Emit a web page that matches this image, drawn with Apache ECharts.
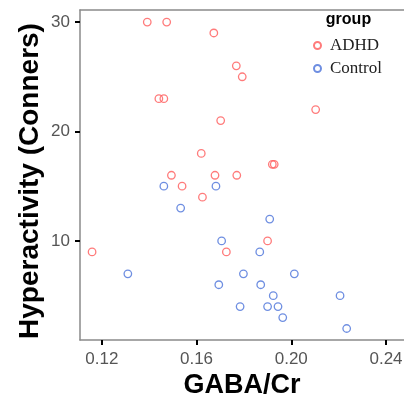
<!DOCTYPE html>
<html>
<head>
<meta charset="utf-8">
<script src="https://cdn.jsdelivr.net/npm/echarts@6/dist/echarts.min.js"></script>
<style>
html,body{margin:0;padding:0;background:#fff;}
#main{width:404px;height:401px;}
</style>
</head>
<body>
<div id="main"></div>
<script>
// Data
const adhdX = [0.1392, 0.1474, 0.1673, 0.1768, 0.1793, 0.1441, 0.1462, 0.2103, 0.1702, 0.1620, 0.1920, 0.1928, 0.1494, 0.1678, 0.1770, 0.1539, 0.1625, 0.1900, 0.1159, 0.1726];
const adhdY = [30, 30, 29, 26, 25, 23, 23, 22, 21, 18, 17, 17, 16, 16, 16, 15, 14, 10, 9, 9];
const controlX = [0.1462, 0.1682, 0.1533, 0.1909, 0.1706, 0.1867, 0.1310, 0.1798, 0.2013, 0.1694, 0.1871, 0.1924, 0.2206, 0.1784, 0.1900, 0.1944, 0.1964, 0.2234];
const controlY = [15, 15, 13, 12, 10, 9, 7, 7, 7, 6, 6, 5, 5, 4, 4, 4, 3, 2];
const xTicks = [0.12, 0.16, 0.20, 0.24];
const yTicks = [10, 20, 30];
const groupNames = ['ADHD', 'Control'];

const zip = (xs, ys) => xs.map((x, i) => [x, ys[i]]);
const RED = '#ff5a5a', BLUE = '#4a72d9';
const AXIS_GRAY = '#8a8a8a';
const SANS = '"Liberation Sans", Arial, sans-serif';

const chart = echarts.init(document.getElementById('main'), null, {renderer: 'canvas'});
chart.setOption({
  animation: false,
  backgroundColor: '#fff',
  grid: {left: 80, top: 10, right: 0, bottom: 61, containLabel: false, outerBoundsMode: 'none'},
  legend: {
    orient: 'vertical', left: 308, top: 32,
    itemWidth: 7, itemHeight: 7, itemGap: 6,
    data: groupNames,
    textStyle: {fontFamily: '"Liberation Serif", "Times New Roman", serif', fontSize: 17, color: '#222', padding: [0, 0, 0, 4]}
  },
  graphic: [
    {type: 'text', x: 348.5, y: 20, style: {text: 'group', fontFamily: SANS, fontWeight: 'bold', fontSize: 16, fill: '#000', align: 'center', verticalAlign: 'middle'}},
    {type: 'text', x: 30, y: 181, rotation: Math.PI / 2, style: {text: 'Hyperactivity (Conners)', fontFamily: SANS, fontWeight: 'bold', fontSize: 28, fill: '#000', align: 'center', verticalAlign: 'middle'}}
  ],
  xAxis: [{
    type: 'value', min: 0.1108, max: 0.2476,
    name: 'GABA/Cr', nameLocation: 'middle', nameGap: 32, nameMoveOverlap: false,
    nameTextStyle: {fontFamily: SANS, fontWeight: 'bold', fontSize: 27, color: '#000'},
    splitLine: {show: false},
    axisLine: {show: true, lineStyle: {color: AXIS_GRAY, width: 1.5}},
    axisTick: {show: true, inside: false, length: 5, customValues: xTicks, lineStyle: {color: '#000', width: 2}},
    axisLabel: {customValues: xTicks, margin: 11, fontFamily: SANS, fontSize: 17, color: '#555', formatter: v => v.toFixed(2)}
  }, {
    type: 'value', position: 'top', min: 0.1108, max: 0.2476,
    splitLine: {show: false},
    axisLine: {show: true, lineStyle: {color: AXIS_GRAY, width: 1.5}},
    axisTick: {show: false}, axisLabel: {show: false}
  }],
  yAxis: {
    type: 'value', min: 0.95, max: 31.1,
    splitLine: {show: false},
    axisLine: {show: true, lineStyle: {color: AXIS_GRAY, width: 1.5}},
    axisTick: {show: true, inside: false, length: 5, customValues: yTicks, lineStyle: {color: '#000', width: 2}},
    axisLabel: {customValues: yTicks, margin: 10, fontFamily: SANS, fontSize: 17, color: '#555'}
  },
  series: [
    {name: groupNames[0], type: 'scatter', data: zip(adhdX, adhdY), symbol: 'circle', symbolSize: 7.5,
     itemStyle: {color: 'rgba(255,255,255,0)', borderColor: RED, borderWidth: 1.3}},
    {name: groupNames[1], type: 'scatter', data: zip(controlX, controlY), symbol: 'circle', symbolSize: 7.5,
     itemStyle: {color: 'rgba(255,255,255,0)', borderColor: BLUE, borderWidth: 1.3}}
  ]
});
</script>
</body>
</html>
